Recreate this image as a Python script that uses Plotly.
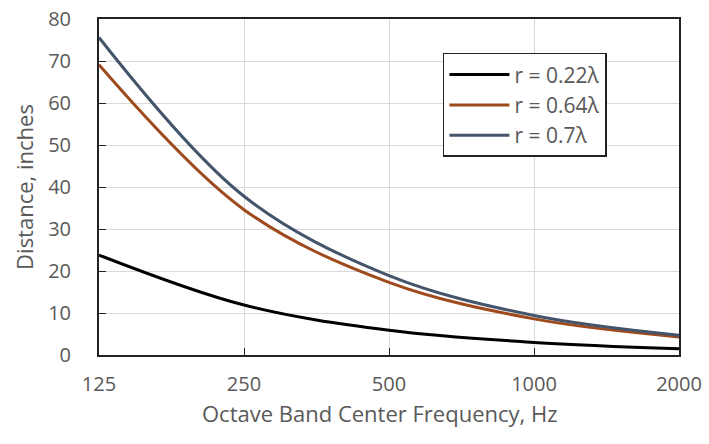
import plotly.graph_objects as go

freqs = [125, 250, 500, 1000, 2000]
tick_labels = ["125", "250", "500", "1000", "2000"]
r022 = [23.8, 11.9, 5.9, 3.0, 1.5]
r064 = [69.1, 34.6, 17.3, 8.6, 4.3]
r07 = [75.6, 37.8, 18.9, 9.4, 4.7]

series = [
    ("r = 0.22λ", r022, "#000000"),
    ("r = 0.64λ", r064, "#9E4A1C"),
    ("r = 0.7λ", r07, "#44546A"),
]

fig = go.Figure()
for name, vals, col in series:
    fig.add_trace(go.Scatter(x=freqs, y=vals, name=name, mode="lines",
                             line=dict(color=col, width=3, shape="spline", smoothing=1.0)))

font = "'Open Sans', Lato, sans-serif"
txt = "#595959"
fig.update_layout(
    width=709, height=444,
    margin=dict(l=99, r=30, t=19, b=89, autoexpand=False),
    paper_bgcolor="white", plot_bgcolor="white",
    font=dict(family=font, color=txt, size=20),
    legend=dict(x=0.593, y=0.899, xanchor="left", yanchor="top",
                bordercolor="#222222", borderwidth=1.5, bgcolor="white",
                font=dict(size=21, color=txt),
                tracegroupgap=0, itemwidth=60),
    showlegend=True,
    annotations=[dict(text="Octave Band Center Frequency, Hz", xref="paper", yref="paper",
                      x=0.484, y=-0.173, xanchor="center", yanchor="middle",
                      showarrow=False, font=dict(size=22, color=txt, family=font))],
)
fig.update_xaxes(type="log", range=[2.0969, 3.30103], tickvals=freqs, ticktext=tick_labels,
                 automargin=False,
                 showgrid=True, gridcolor="#D9D9D9", gridwidth=1,
                 showline=True, linecolor="#222222", linewidth=2, mirror=True,
                 ticks="inside", ticklen=7, tickcolor="#222222", ticklabelstandoff=10,
                 tickfont=dict(size=20, color=txt))
fig.update_yaxes(range=[0, 80], dtick=10, automargin=False,
                 showgrid=True, gridcolor="#D9D9D9", gridwidth=1,
                 showline=True, linecolor="#222222", linewidth=2, mirror=True,
                 ticks="inside", ticklen=7, tickcolor="#222222", ticklabelstandoff=22,
                 title=dict(text="Distance, inches", font=dict(size=22, color=txt), standoff=8),
                 tickfont=dict(size=20, color=txt), zeroline=False)

fig.write_html("out.html", config={"displayModeBar": False},
               post_script="document.body.style.margin='0';")
